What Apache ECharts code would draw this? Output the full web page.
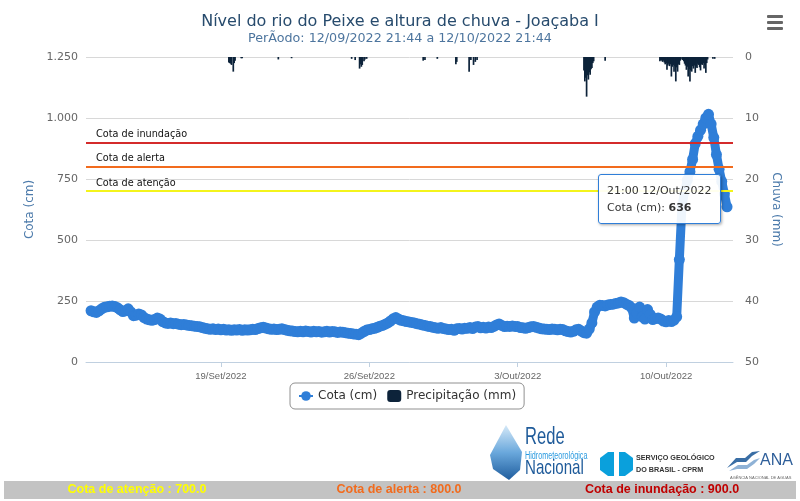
<!DOCTYPE html>
<html><head><meta charset="utf-8">
<script src="https://cdn.jsdelivr.net/npm/echarts@6/dist/echarts.min.js"></script>
<style>html,body{margin:0;padding:0;background:#fff;}#chart{width:800px;height:501px;}</style>
</head><body><div id="chart"></div>
<script>
// ---- data ----
const cotaStart = '2022-09-12 21:00';   // first reading
const cotaStepHours = 3;               // one value every 3 hours
const cotaValues = [
  210,206,203,210,218,224,226,228,
  230,227,222,214,207,210,218,205,
  190,192,197,193,182,176,173,171,
  174,180,176,166,160,158,160,157,
  158,155,153,154,152,150,149,147,
  146,144,141,138,136,134,136,133,
  135,132,134,131,132,130,132,131,
  133,130,132,131,132,134,133,137,
  140,142,139,136,134,135,133,134,
  136,133,130,128,127,125,124,126,
  124,127,125,123,126,124,125,122,
  124,126,123,125,124,121,123,122,
  120,118,117,115,114,112,118,125,
  131,133,136,138,142,147,150,155,
  160,168,177,182,176,171,169,166,
  164,162,160,157,155,152,150,147,
  145,142,140,138,141,137,135,133,
  134,130,136,137,135,138,138,141,
  137,143,145,140,142,139,143,141,
  146,152,156,150,145,147,146,148,
  146,145,141,140,138,141,144,146,
  142,139,136,135,134,133,135,134,
  132,134,133,128,125,123,126,132,
  134,127,120,118,135,160,205,225,
  233,232,230,234,236,237,240,242,
  246,243,237,232,222,180,200,225,
  185,176,215,195,174,178,180,176,
  168,165,170,166,172,185,420,640,
  700,745,780,830,895,925,950,975,
  1000,1015,975,920,850,790,740,690,
  636
];
const precTimes = [
  '2022-09-19 09:00','2022-09-19 10:00','2022-09-19 11:00','2022-09-19 12:00','2022-09-19 14:00','2022-09-19 15:00','2022-09-19 16:00',
  '2022-09-19 23:00','2022-09-20 00:00','2022-09-21 17:00','2022-09-22 08:00',
  '2022-09-25 04:00','2022-09-25 08:00','2022-09-25 13:00','2022-09-25 14:00','2022-09-25 15:00','2022-09-25 16:00','2022-09-25 18:00','2022-09-25 19:00','2022-09-25 21:00',
  '2022-09-28 13:00','2022-09-28 15:00','2022-09-29 05:00',
  '2022-09-30 02:00','2022-09-30 03:00','2022-09-30 17:00','2022-09-30 19:00','2022-09-30 22:00','2022-10-01 00:00','2022-10-01 02:00',
  '2022-10-06 03:00','2022-10-06 04:00','2022-10-06 05:00','2022-10-06 06:00','2022-10-06 07:00','2022-10-06 08:00','2022-10-06 09:00','2022-10-06 10:00','2022-10-06 11:00','2022-10-06 12:00','2022-10-06 13:00','2022-10-06 14:00',
  '2022-10-07 03:00',
  '2022-10-09 17:00','2022-10-09 18:00','2022-10-09 19:00','2022-10-09 20:00','2022-10-09 21:00','2022-10-09 22:00','2022-10-09 23:00',
  '2022-10-10 00:00','2022-10-10 01:00','2022-10-10 02:00','2022-10-10 03:00','2022-10-10 04:00','2022-10-10 05:00','2022-10-10 06:00','2022-10-10 07:00',
  '2022-10-10 08:00','2022-10-10 09:00','2022-10-10 10:00','2022-10-10 11:00','2022-10-10 12:00','2022-10-10 13:00','2022-10-10 14:00','2022-10-10 15:00',
  '2022-10-10 16:00','2022-10-10 18:00','2022-10-10 19:00','2022-10-10 20:00','2022-10-10 21:00','2022-10-10 22:00','2022-10-10 23:00',
  '2022-10-11 00:00','2022-10-11 01:00','2022-10-11 02:00','2022-10-11 03:00','2022-10-11 04:00','2022-10-11 05:00','2022-10-11 06:00','2022-10-11 07:00',
  '2022-10-11 08:00','2022-10-11 09:00','2022-10-11 10:00','2022-10-11 11:00','2022-10-11 12:00','2022-10-11 13:00','2022-10-11 14:00','2022-10-11 15:00',
  '2022-10-11 16:00','2022-10-11 17:00','2022-10-11 18:00','2022-10-11 19:00','2022-10-11 20:00','2022-10-11 21:00','2022-10-11 22:00','2022-10-11 23:00',
  '2022-10-12 05:00','2022-10-12 07:00'
];
const precValues = [
  0.9,1.0,1.1,1.3,2.4,1.0,0.6,
  0.2,0.2,0.4,0.2,
  0.3,0.5,1.9,1.2,1.6,1.3,0.7,0.4,0.3,
  0.6,0.5,0.3,
  1.2,0.8,2.4,0.5,1.3,0.8,0.5,
  2.2,4.0,3.4,6.5,3.0,3.7,2.5,2.9,2.0,1.8,1.0,0.7,
  0.6,
  0.7,0.5,0.6,0.8,0.6,0.9,1.2,
  1.0,2.1,1.4,1.1,1.5,1.2,3.2,1.6,
  1.3,2.4,1.5,4.0,1.7,2.4,1.2,1.3,
  0.6,0.4,0.5,0.7,1.1,1.4,2.1,
  1.6,3.2,2.0,4.0,2.2,2.4,1.5,1.9,
  1.4,2.6,1.6,1.8,1.1,1.3,1.7,2.2,
  1.2,1.3,1.0,1.9,1.3,2.6,1.0,0.4,
  0.3,0.3
];
const xTickDates = ['2022-09-19 00:00','2022-09-26 00:00','2022-10-03 00:00','2022-10-10 00:00'];
const xRange = ['2022-09-12 15:15','2022-10-13 03:45'];
const cotaTicks = [0,250,500,750,1000,1250];
const chuvaTicks = [0,10,20,30,40,50];
const cotaAtencao = 700, cotaAlerta = 800, cotaInundacao = 900;
const monthNames = ['Jan','Fev','Mar','Abr','Mai','Jun','Jul','Ago','Set','Out','Nov','Dez'];

// ---- helpers ----
function toMs(s){
  const parts = s.split(' ');
  const d = parts[0].split('-').map(Number);
  const t = (parts[1] || '00:00').split(':').map(Number);
  return Date.UTC(d[0], d[1]-1, d[2], t[0], t[1]);
}
function fmtDay(ms){
  const d = new Date(ms);
  return d.getUTCDate() + '/' + monthNames[d.getUTCMonth()] + '/' + d.getUTCFullYear();
}
function pad2(n){ return (n < 10 ? '0' : '') + n; }
function fmtThousands(v){
  if (v >= 1000) return Math.floor(v/1000) + '.' + String(v % 1000).padStart(3,'0');
  return String(v);
}

const startMs = toMs(cotaStart);
const stepMs = cotaStepHours * 3600 * 1000;
const cotaData = cotaValues.map((v, i) => [startMs + i * stepMs, v]);
const precData = precTimes.map((t, i) => [toMs(t), precValues[i]]);
const tickMs = xTickDates.map(toMs);

const FONT = 'DejaVu Sans';
const chart = echarts.init(document.getElementById('chart'), null, {renderer:'canvas'});

const option = {
  animation: false,
  backgroundColor: '#ffffff',
  title: {
    text: 'Nível do rio do Peixe e altura de chuva - Joaçaba I',
    subtext: 'PerÃodo: 12/09/2022 21:44 a 12/10/2022 21:44',
    left: 'center', top: 9, itemGap: 2,
    textStyle: {fontFamily: FONT, fontSize: 16, fontWeight: 'normal', color: '#274b6d'},
    subtextStyle: {fontFamily: FONT, fontSize: 12.7, color: '#4d759e'}
  },
  grid: {left: 86, right: 67, top: 57, bottom: 139, containLabel: false},
  legend: {
    left: 290, top: 383, padding: [7, 8], itemGap: 10, itemWidth: 14, itemHeight: 12,
    borderColor: '#909090', borderWidth: 1, borderRadius: 5,
    textStyle: {fontFamily: FONT, fontSize: 12, color: '#333'},
    lineStyle: {width: 2},
    data: [{name: 'Cota (cm)'}, {name: 'Precipitação (mm)', icon: 'roundRect'}]
  },
  tooltip: {
    trigger: 'item', triggerOn: 'none', alwaysShowContent: true,
    position: [598, 174],
    backgroundColor: 'rgba(255,255,255,0.92)', borderColor: '#2f7ed8', borderWidth: 1, borderRadius: 3,
    padding: [7, 8],
    textStyle: {fontFamily: FONT, fontSize: 11, color: '#333', lineHeight: 17},
    extraCssText: 'box-shadow:1px 1px 3px rgba(0,0,0,0.35);',
    formatter: function (p) {
      const d = new Date(p.value[0]);
      return pad2(d.getUTCHours()) + ':' + pad2(d.getUTCMinutes()) + ' ' + fmtDay(p.value[0]) +
        '<br/>' + p.seriesName + ': <b>' + p.value[1] + '</b>';
    }
  },
  xAxis: {
    type: 'value', min: toMs(xRange[0]), max: toMs(xRange[1]),
    axisLine: {show: true, onZero: false, lineStyle: {color: '#C0D0E0'}},
    axisTick: {show: true, customValues: tickMs, length: 5, lineStyle: {color: '#C0D0E0'}},
    axisLabel: {customValues: tickMs, formatter: fmtDay, fontFamily: 'Liberation Sans', fontSize: 9.5, color: '#666', margin: 9},
    splitLine: {show: false}
  },
  yAxis: [
    {
      type: 'value', min: cotaTicks[0], max: cotaTicks[cotaTicks.length-1], interval: cotaTicks[1]-cotaTicks[0],
      position: 'left', name: 'Cota (cm)', nameLocation: 'middle', nameGap: 50, nameRotate: 90,
      nameTextStyle: {fontFamily: FONT, fontSize: 12, color: '#4d7bab'},
      axisLine: {show: false}, axisTick: {show: false},
      axisLabel: {formatter: fmtThousands, fontFamily: FONT, fontSize: 11, color: '#666', margin: 8},
      splitLine: {show: true, lineStyle: {color: '#D8D8D8', width: 1}}
    },
    {
      type: 'value', min: chuvaTicks[0], max: chuvaTicks[chuvaTicks.length-1], interval: chuvaTicks[1]-chuvaTicks[0],
      inverse: true, position: 'right', name: 'Chuva (mm)', nameLocation: 'middle', nameGap: 28, nameRotate: -90,
      nameTextStyle: {fontFamily: FONT, fontSize: 12, color: '#4d7bab'},
      axisLine: {show: false}, axisTick: {show: false},
      axisLabel: {fontFamily: FONT, fontSize: 11, color: '#666', margin: 12},
      splitLine: {show: false}
    }
  ],
  series: [
    {
      name: 'Cota (cm)', type: 'line', yAxisIndex: 0, data: cotaData,
      symbol: 'circle', symbolSize: 11, showSymbol: true,
      lineStyle: {width: 9, color: '#2f7ed8'}, itemStyle: {color: '#2f7ed8'},
      emphasis: {disabled: true}, z: 3,
      markLine: {
        silent: true, symbol: 'none', animation: false,
        label: {show: true, position: 'insideStartTop', formatter: '{b}', color: '#111', fontFamily: FONT, fontSize: 9.7, distance: [10, 3]},
        data: [
          {name: 'Cota de inundação', yAxis: cotaInundacao, lineStyle: {color: '#d42b2b', width: 2, type: 'solid'}},
          {name: 'Cota de alerta', yAxis: cotaAlerta, lineStyle: {color: '#f26b1d', width: 2, type: 'solid'}},
          {name: 'Cota de atenção', yAxis: cotaAtencao, lineStyle: {color: '#f4f41c', width: 2, type: 'solid'}}
        ]
      }
    },
    {
      name: 'Precipitação (mm)', type: 'bar', yAxisIndex: 1, data: precData,
      barWidth: 1.7, itemStyle: {color: '#0d233a'}, emphasis: {disabled: true}, z: 2
    }
  ],
  graphic: [
    // menu icon
    {type:'rect', shape:{x:767,y:15,width:16,height:3,r:1}, style:{fill:'#666'}},
    {type:'rect', shape:{x:767,y:21,width:16,height:3,r:1}, style:{fill:'#666'}},
    {type:'rect', shape:{x:767,y:27,width:16,height:3,r:1}, style:{fill:'#666'}},
    // Rede Hidrometeorológica Nacional logo
    {type:'polygon', shape:{points:[[506,425],[522,452],[520,470],[509,480],[493,469],[490,455]]},
      style:{fill:new echarts.graphic.LinearGradient(0,0,0,1,[{offset:0,color:'#d5e9f8'},{offset:0.5,color:'#6aa8dc'},{offset:1,color:'#1f5d9e'}])}},
    {type:'text', x:525, y:449, scaleX:0.72, style:{text:'Rede', font:'23px "Liberation Sans"', fill:'#1f5b9a', textVerticalAlign:'bottom'}},
    {type:'text', x:525, y:461, scaleX:0.72, style:{text:'Hidrometeorológica', font:'10px "Liberation Sans"', fill:'#2b9be0', textVerticalAlign:'bottom'}},
    {type:'text', x:525, y:479, scaleX:0.72, style:{text:'Nacional', font:'21px "Liberation Sans"', fill:'#1f5b9a', textVerticalAlign:'bottom'}},
    // CPRM logo
    {type:'polygon', shape:{points:[[600,458],[608,452],[614,452],[614,476],[608,476],[600,470]]}, style:{fill:'#0aa0dc'}},
    {type:'polygon', shape:{points:[[633,458],[625,452],[619,452],[619,476],[625,476],[633,470]]}, style:{fill:'#0aa0dc'}},
    {type:'text', x:636, y:462, scaleX:0.9, style:{text:'SERVIÇO GEOLÓGICO', font:'bold 8px "Liberation Sans"', fill:'#333', textVerticalAlign:'bottom'}},
    {type:'text', x:636, y:474, scaleX:0.9, style:{text:'DO BRASIL - CPRM', font:'bold 8px "Liberation Sans"', fill:'#333', textVerticalAlign:'bottom'}},
    // ANA logo
    {type:'polygon', shape:{points:[[727,468],[736,458],[745,458],[752,452],[760,451],[752,456],[746,462],[737,462]]}, style:{fill:'#3a6ea5'}},
    {type:'polygon', shape:{points:[[729,471],[738,465],[747,465],[754,460],[760,458],[754,464],[747,469],[737,469]]}, style:{fill:'#8fb2d6'}},
    {type:'text', x:760, y:469, style:{text:'ANA', font:'16px "Liberation Sans"', fill:'#2f5f9a', textVerticalAlign:'bottom'}},
    {type:'text', x:730, y:480, style:{text:'AGÊNCIA NACIONAL DE ÁGUAS', font:'4px "Liberation Sans"', fill:'#666', textVerticalAlign:'bottom'}},
    // bottom status bar
    {type:'rect', shape:{x:4,y:481,width:792,height:18}, style:{fill:'#c3c3c3'}},
    {type:'text', x:137, y:490, style:{text:'Cota de atenção : ' + cotaAtencao.toFixed(1), font:'bold 12.5px "Liberation Sans"', fill:'#ffff00', textAlign:'center', textVerticalAlign:'middle'}},
    {type:'text', x:399, y:490, style:{text:'Cota de alerta : ' + cotaAlerta.toFixed(1), font:'bold 12.5px "Liberation Sans"', fill:'#f26b1d', textAlign:'center', textVerticalAlign:'middle'}},
    {type:'text', x:662, y:490, style:{text:'Cota de inundação : ' + cotaInundacao.toFixed(1), font:'bold 12.5px "Liberation Sans"', fill:'#c00000', textAlign:'center', textVerticalAlign:'middle'}}
  ]
};
chart.setOption(option);
chart.dispatchAction({type: 'showTip', seriesIndex: 0, dataIndex: cotaValues.length - 1});
</script>
</body></html>
